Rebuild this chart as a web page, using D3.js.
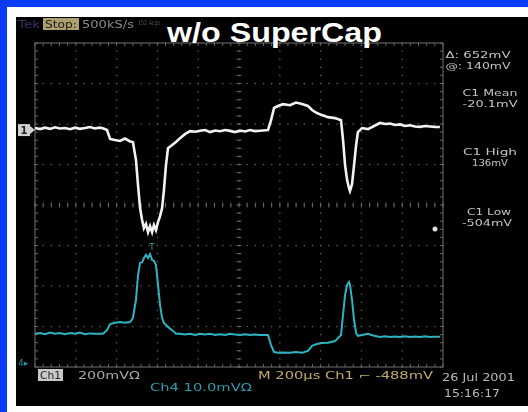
<!DOCTYPE html>
<html><head><meta charset="utf-8">
<script src="https://cdn.jsdelivr.net/npm/d3@7"></script>
<style>html,body{margin:0;padding:0;background:#0a3bf6;}svg{display:block;}</style>
</head><body>
<script>
// ---- data (time in µs, C1 in mV, Ch4 in mV) ----
const c1Time = [0,25,49,74,98,122,147,172,196,220,245,270,294,315,333,353,368,392,417,441,466,480,495,505,515,525,534,544,554,564,574,583,593,603,613,623,632,642,652,672,691,711,735,760,785,809,834,858,883,907,932,956,980,1005,1030,1054,1078,1103,1142,1157,1172,1191,1216,1250,1279,1309,1338,1358,1382,1407,1436,1471,1500,1510,1520,1530,1539,1544,1554,1564,1574,1583,1603,1632,1662,1691,1716,1740,1765,1789,1814,1838,1863,1887,1912,1936,1960,1985];
const c1Values = [10,5,12,6,14,8,10,4,12,6,10,15,8,12,9,0,-44,-49,-54,-42,-56,-59,-148,-272,-385,-444,-484,-464,-504,-474,-504,-469,-494,-454,-425,-385,-296,-173,-89,-74,-59,-40,-20,-5,-8,-3,0,-10,-2,-6,0,-4,-10,-2,-7,0,-5,-3,0,49,109,119,128,123,136,129,119,99,84,74,64,59,49,-49,-173,-247,-286,-301,-267,-173,-74,-10,10,5,20,35,30,32,25,28,20,24,18,16,20,18,16,15];
const ch4Time = c1Time;
const ch4Values = [7.2,7.4,7.1,7.5,7.2,7.4,7.1,7.4,7.2,7.5,7.1,7.3,7.2,7.2,7.2,8.1,9.6,9.9,10.1,9.9,10.1,11.1,15.6,21.7,24.7,24.9,25.9,26.7,25.9,26.9,25.4,25.2,24.2,19.3,14.3,11.1,9.9,9.4,8.9,8.1,7.2,7.2,7.0,7.2,6.9,7.2,7.0,7.2,6.9,7.1,6.9,7.2,7.0,6.9,7.1,6.9,7.0,6.9,6.9,4.4,2.7,2.5,2.6,2.5,2.7,2.5,3.0,4.2,4.7,4.9,5.0,5.4,6.9,11.9,16.8,19.3,20.0,19.3,15.6,10.6,7.4,6.7,6.9,7.2,6.7,6.4,6.6,6.4,6.5,6.4,6.6,6.4,6.5,6.4,6.6,6.4,6.5,6.5];
const timeTicks = d3.range(0, 2001, 200);          // 200 µs/div
const divTicks = d3.range(0, 9);                    // 8 vertical divisions
const title = "w/o SuperCap";
const measLabels = ["Δ: 652mV","@: 140mV","C1 Mean","-20.1mV","C1 High","136mV","C1 Low","-504mV"];
const cursorValues = [140, -512];                   // mV on C1

const W = 528, H = 412;
const svg = d3.select("body").append("svg").attr("width", W).attr("height", H);
const defs = svg.append("defs");
const f = defs.append("filter").attr("id","soft").attr("x","-5%").attr("y","-5%").attr("width","110%").attr("height","110%");
f.append("feGaussianBlur").attr("stdDeviation",0.55);
const g2 = defs.append("filter").attr("id","glow").attr("x","-5%").attr("y","-5%").attr("width","110%").attr("height","110%");
g2.append("feGaussianBlur").attr("stdDeviation",0.7);

// frame
svg.append("rect").attr("width",W).attr("height",H).attr("fill","#0a3bf6");
svg.append("rect").attr("x",7).attr("y",7).attr("width",W-7).attr("height",H-7).attr("fill","#ffffff");
svg.append("rect").attr("x",16).attr("y",17).attr("width",W-16).attr("height",389).attr("fill","#000000");

const x = d3.scaleLinear().domain([0,2000]).range([35,443]);
const yDiv = d3.scaleLinear().domain([0,8]).range([43,367]);
const yC1 = d3.scaleLinear().domain([-1170,430]).range([367,43]);
const yC4 = d3.scaleLinear().domain([-1,79]).range([367,43]);

// graticule
const grid = svg.append("g").attr("filter","url(#soft)");
const minorX = d3.range(0, 2001, 40), minorY = d3.range(0, 8.01, 0.2);
timeTicks.slice(1,-1).forEach(t => {
  minorY.forEach(d => grid.append("rect").attr("x", x(t)-0.6).attr("y", yDiv(d)-0.6).attr("width",1.3).attr("height",1.3).attr("fill","#606060"));
});
divTicks.slice(1,-1).forEach(d => {
  minorX.forEach(t => grid.append("rect").attr("x", x(t)-0.6).attr("y", yDiv(d)-0.6).attr("width",1.3).attr("height",1.3).attr("fill","#606060"));
});
// center cross ticks
minorY.forEach(d => grid.append("line").attr("x1",x(1000)-2.5).attr("x2",x(1000)+2.5).attr("y1",yDiv(d)).attr("y2",yDiv(d)).attr("stroke","#666").attr("stroke-width",1));
minorX.forEach(t => grid.append("line").attr("x1",x(t)).attr("x2",x(t)).attr("y1",yDiv(4)-2.5).attr("y2",yDiv(4)+2.5).attr("stroke","#666").attr("stroke-width",1));
// edge ticks
minorX.forEach(t => { grid.append("line").attr("x1",x(t)).attr("x2",x(t)).attr("y1",yDiv(0)).attr("y2",yDiv(0)+3).attr("stroke","#666");
  grid.append("line").attr("x1",x(t)).attr("x2",x(t)).attr("y1",yDiv(8)-3).attr("y2",yDiv(8)).attr("stroke","#666"); });
minorY.forEach(d => { grid.append("line").attr("x1",x(0)).attr("x2",x(0)+3).attr("y1",yDiv(d)).attr("y2",yDiv(d)).attr("stroke","#666");
  grid.append("line").attr("x1",x(2000)-3).attr("x2",x(2000)).attr("y1",yDiv(d)).attr("y2",yDiv(d)).attr("stroke","#666"); });
grid.append("rect").attr("x",x(0)).attr("y",yDiv(0)).attr("width",x(2000)-x(0)).attr("height",yDiv(8)-yDiv(0))
  .attr("fill","none").attr("stroke","#707070").attr("stroke-width",1);

// cursors
svg.append("line").attr("x1",57).attr("x2",422).attr("y1",yC1(cursorValues[0])).attr("y2",yC1(cursorValues[0]))
  .attr("stroke","#bdbdbd").attr("stroke-width",1.2).attr("filter","url(#soft)");
svg.append("line").attr("x1",57).attr("x2",422).attr("y1",yC1(cursorValues[1])).attr("y2",yC1(cursorValues[1]))
  .attr("stroke","#9a9a9a").attr("stroke-width",1.3).attr("stroke-dasharray","7,6").attr("filter","url(#soft)");

// traces
const lineC1 = d3.line().x((d,i)=>x(c1Time[i])).y(d=>yC1(d));
const lineC4 = d3.line().x((d,i)=>x(ch4Time[i])).y(d=>yC4(d));
svg.append("path").attr("d", lineC4(ch4Values)).attr("fill","none").attr("stroke","#2fb3c0").attr("stroke-width",2).attr("filter","url(#glow)");
svg.append("path").attr("d", lineC1(c1Values)).attr("fill","none").attr("stroke","#f2f2f2").attr("stroke-width",2.6).attr("filter","url(#glow)");

// markers
svg.append("circle").attr("cx",435).attr("cy",229).attr("r",2.5).attr("fill","#dddddd").attr("filter","url(#glow)");
svg.append("text").attr("x",152).attr("y",250).attr("font-family","DejaVu Sans").attr("font-size",8).attr("fill","#2fb3a0").attr("text-anchor","middle").text("T");
const m1 = svg.append("g").attr("filter","url(#soft)");
m1.append("rect").attr("x",18).attr("y",yC1(0)-6).attr("width",12).attr("height",12).attr("fill","#cfcfcf");
m1.append("text").attr("x",24).attr("y",yC1(0)+4).attr("text-anchor","middle").attr("font-family","DejaVu Sans").attr("font-size",10).attr("font-weight","bold").attr("fill","#222").text("1");
m1.append("path").attr("d",`M30,${yC1(0)-4}L35,${yC1(0)}L30,${yC1(0)+4}Z`).attr("fill","#cfcfcf");
svg.append("text").attr("x",18).attr("y",yC4(0)+3).attr("font-family","DejaVu Sans").attr("font-size",9).attr("fill","#2a8f9a").attr("filter","url(#soft)").text("4▸");

// top status
const txt = (xx,yy,s,col,size,len,anchor) => {
  const t = svg.append("text").attr("x",xx).attr("y",yy).attr("font-family","DejaVu Sans").attr("font-size",size).attr("fill",col).attr("filter","url(#soft)").text(s);
  if (len) t.attr("textLength",len).attr("lengthAdjust","spacingAndGlyphs");
  if (anchor) t.attr("text-anchor",anchor);
  return t;
};
txt(18,28,"Tek","#3b2d63",10,22);
svg.append("rect").attr("x",43).attr("y",18).attr("width",36).attr("height",12).attr("fill","#ad9f70").attr("filter","url(#soft)");
txt(45,28,"Stop:","#1c1a10",11,32);
txt(82,28,"500kS/s","#8a8a8a",10,52);
txt(138,25,"152 Acqs","#555",7,22);
svg.append("line").attr("x1",137).attr("x2",137).attr("y1",29).attr("y2",37).attr("stroke","#777").attr("stroke-width",1.5).attr("filter","url(#soft)");
svg.append("line").attr("x1",137).attr("x2",238).attr("y1",36).attr("y2",36).attr("stroke","#555").attr("stroke-width",1).attr("filter","url(#soft)");

// title
svg.append("text").attr("x",167).attr("y",42).attr("font-family","Liberation Sans, Arial, sans-serif").attr("font-weight","bold")
  .attr("font-size",27).attr("fill","#ffffff").attr("textLength",215).attr("lengthAdjust","spacingAndGlyphs").text(title);

// measurements
const measPos = [[478,58,65],[478,69,65],[490,96,55],[490,107,55],[490,155,54],[490,166,36],[489,215,44],[487,226,50]];
measLabels.forEach((s,i)=> txt(measPos[i][0],measPos[i][1],s,"#c4c4c4",9.5,measPos[i][2],"middle"));

// bottom status
svg.append("rect").attr("x",38).attr("y",369).attr("width",25).attr("height",12).attr("fill","#c8c8c8").attr("filter","url(#soft)");
txt(40,379,"Ch1","#222",10,21);
txt(78,379,"200mVΩ","#a8a8a8",10,62);
txt(150,391,"Ch4  10.0mVΩ","#2a9cab",10,102);
txt(258,379,"M 200µs  Ch1 ⌐  -488mV","#c2aa6a",10,175);
txt(442,381,"26 Jul 2001","#b8b8b8",10,73);
txt(444,397,"15:16:17","#b8b8b8",10,56);
</script>
</body></html>
